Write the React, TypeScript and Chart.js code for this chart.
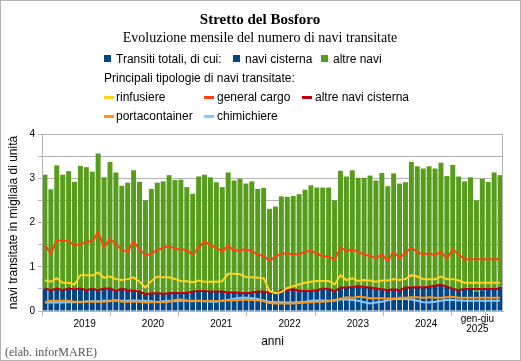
import React, { useEffect, useRef } from "react";
import { Chart, registerables } from "chart.js";

Chart.register(...registerables);

// ---- categories ----
const anni = ["2019", "2020", "2021", "2022", "2023", "2024", "2025"];
const mesi = ["gen", "feb", "mar", "apr", "mag", "giu", "lug", "ago", "set", "ott", "nov", "dic"];
const categories: string[] = [];
anni.forEach((a) => {
  const n = a === "2025" ? 6 : 12;
  for (let i = 0; i < n; i++) categories.push(mesi[i] + " " + a);
});
const periodLabels: (string | string[])[] = ["2019", "2020", "2021", "2022", "2023", "2024", ["gen-giu", "2025"]];
const yTickLabels = ["0", "1", "2", "3", "4"];

// ---- series (migliaia di navi) ----
const naviCisterna = [
  0.51, 0.47, 0.51, 0.47, 0.51, 0.49, 0.51, 0.47, 0.50, 0.47, 0.51, 0.51,
  0.45, 0.50, 0.47, 0.46, 0.44, 0.38, 0.40, 0.40, 0.39, 0.40, 0.41, 0.40,
  0.41, 0.44, 0.45, 0.45, 0.44, 0.44, 0.44, 0.42, 0.42, 0.41, 0.40, 0.42,
  0.44, 0.44, 0.41, 0.40, 0.47, 0.47, 0.49, 0.46, 0.45, 0.45, 0.47, 0.51,
  0.50, 0.44, 0.53, 0.53, 0.54, 0.56, 0.54, 0.53, 0.51, 0.49, 0.47, 0.49,
  0.47, 0.53, 0.53, 0.54, 0.53, 0.55, 0.57, 0.59, 0.55, 0.50, 0.47, 0.50,
  0.50, 0.43, 0.47, 0.48, 0.50, 0.55,
];
const altreNavi = [
  2.57, 2.28, 2.78, 2.61, 2.65, 2.43, 2.77, 2.78, 2.65, 3.09, 2.51, 2.86,
  2.68, 2.33, 2.43, 2.72, 2.48, 2.12, 2.36, 2.50, 2.54, 2.67, 2.55, 2.57,
  2.39, 2.21, 2.59, 2.63, 2.58, 2.47, 2.36, 2.71, 2.53, 2.58, 2.48, 2.51,
  2.32, 2.34, 1.90, 1.96, 2.12, 2.11, 2.11, 2.18, 2.29, 2.39, 2.32, 2.28,
  2.29, 2.06, 2.64, 2.51, 2.64, 2.45, 2.47, 2.53, 2.44, 2.63, 2.35, 2.62,
  2.41, 2.38, 2.84, 2.73, 2.69, 2.72, 2.65, 2.76, 2.50, 2.80, 2.57, 2.43,
  2.52, 2.07, 2.52, 2.44, 2.63, 2.52,
];
const rinfusiere = [
  0.69, 0.66, 0.74, 0.64, 0.64, 0.60, 0.81, 0.81, 0.80, 0.87, 0.75, 0.78,
  0.72, 0.70, 0.72, 0.76, 0.66, 0.53, 0.68, 0.78, 0.76, 0.76, 0.72, 0.68,
  0.67, 0.65, 0.69, 0.66, 0.66, 0.66, 0.67, 0.84, 0.84, 0.83, 0.77, 0.76,
  0.75, 0.74, 0.45, 0.40, 0.43, 0.52, 0.56, 0.60, 0.64, 0.66, 0.68, 0.68,
  0.68, 0.60, 0.81, 0.70, 0.74, 0.68, 0.70, 0.69, 0.66, 0.69, 0.69, 0.72,
  0.70, 0.72, 0.81, 0.78, 0.72, 0.72, 0.72, 0.78, 0.72, 0.72, 0.69, 0.64,
  0.64, 0.64, 0.64, 0.64, 0.64, 0.64,
];
const generalCargo = [
  1.49, 1.30, 1.60, 1.59, 1.59, 1.48, 1.51, 1.57, 1.57, 1.78, 1.44, 1.63,
  1.51, 1.38, 1.34, 1.57, 1.40, 1.25, 1.30, 1.38, 1.43, 1.47, 1.40, 1.39,
  1.38, 1.27, 1.43, 1.58, 1.49, 1.43, 1.34, 1.48, 1.36, 1.38, 1.39, 1.36,
  1.27, 1.24, 1.14, 1.23, 1.30, 1.30, 1.28, 1.28, 1.34, 1.36, 1.30, 1.24,
  1.24, 1.15, 1.43, 1.36, 1.39, 1.34, 1.27, 1.25, 1.19, 1.28, 1.13, 1.34,
  1.19, 1.32, 1.43, 1.33, 1.28, 1.31, 1.25, 1.34, 1.18, 1.39, 1.28, 1.17,
  1.17, 1.17, 1.17, 1.17, 1.17, 1.17,
];
const altreNaviCisterna = [
  0.51, 0.47, 0.51, 0.47, 0.51, 0.49, 0.51, 0.47, 0.50, 0.47, 0.51, 0.51,
  0.45, 0.50, 0.47, 0.46, 0.44, 0.38, 0.40, 0.40, 0.39, 0.40, 0.41, 0.40,
  0.41, 0.44, 0.45, 0.45, 0.44, 0.44, 0.44, 0.42, 0.42, 0.41, 0.40, 0.42,
  0.44, 0.44, 0.41, 0.40, 0.47, 0.47, 0.49, 0.46, 0.45, 0.45, 0.47, 0.51,
  0.50, 0.44, 0.53, 0.53, 0.54, 0.56, 0.54, 0.53, 0.51, 0.49, 0.47, 0.49,
  0.47, 0.53, 0.53, 0.54, 0.53, 0.55, 0.57, 0.59, 0.55, 0.50, 0.47, 0.50,
  0.50, 0.50, 0.50, 0.50, 0.50, 0.50,
];
const portacontainer = [
  0.20, 0.23, 0.23, 0.23, 0.23, 0.21, 0.21, 0.21, 0.21, 0.21, 0.21, 0.22,
  0.25, 0.21, 0.21, 0.21, 0.21, 0.19, 0.20, 0.21, 0.20, 0.21, 0.25, 0.26,
  0.24, 0.23, 0.23, 0.22, 0.23, 0.22, 0.23, 0.24, 0.24, 0.25, 0.26, 0.25,
  0.24, 0.22, 0.18, 0.17, 0.17, 0.17, 0.17, 0.18, 0.19, 0.20, 0.21, 0.21,
  0.22, 0.25, 0.28, 0.31, 0.30, 0.32, 0.31, 0.29, 0.29, 0.29, 0.28, 0.28,
  0.30, 0.30, 0.31, 0.31, 0.30, 0.31, 0.30, 0.30, 0.31, 0.32, 0.30, 0.30,
  0.30, 0.30, 0.30, 0.30, 0.30, 0.30,
];
const chimichiere = [
  0.19, 0.19, 0.20, 0.19, 0.20, 0.20, 0.20, 0.22, 0.22, 0.22, 0.23, 0.23,
  0.24, 0.23, 0.23, 0.24, 0.23, 0.23, 0.22, 0.20, 0.22, 0.23, 0.22, 0.23,
  0.23, 0.22, 0.23, 0.22, 0.21, 0.21, 0.23, 0.25, 0.28, 0.30, 0.30, 0.29,
  0.27, 0.24, 0.21, 0.20, 0.20, 0.19, 0.19, 0.20, 0.21, 0.23, 0.24, 0.24,
  0.23, 0.23, 0.26, 0.26, 0.25, 0.23, 0.20, 0.17, 0.19, 0.21, 0.24, 0.27,
  0.27, 0.27, 0.26, 0.23, 0.20, 0.19, 0.21, 0.23, 0.25, 0.25, 0.24, 0.23,
  0.23, 0.23, 0.23, 0.23, 0.23, 0.23,
];

const COL = {
  cisterna: "#004586",
  altre: "#579d1c",
  rinfusiere: "#ffd320",
  cargo: "#ff420e",
  altreCist: "#c5000b",
  container: "#ff950e",
  chimi: "#83caff",
  grid: "#b3b3b3",
};

const SANS = '"Liberation Sans", Arial, sans-serif';
const SERIF = '"Liberation Serif", "Times New Roman", serif';

const plotBorder = {
  id: "plotBorder",
  afterDatasetsDraw(chart: any) {
    const { ctx, chartArea: a } = chart;
    ctx.save();
    ctx.strokeStyle = COL.grid;
    ctx.lineWidth = 1;
    ctx.strokeRect(Math.round(a.left) + 0.5, Math.round(a.top) + 0.5, Math.round(a.right - a.left) - 1, Math.round(a.bottom - a.top));
    ctx.restore();
  },
};

function lineDs(label: string, data: number[], color: string) {
  return {
    type: "line" as const,
    label,
    data,
    borderColor: color,
    backgroundColor: color,
    borderWidth: 2,
    pointRadius: 0,
    tension: 0,
    order: 0,
    stack: "l_" + label,
  };
}

function ChartCanvas() {
  const ref = useRef<HTMLCanvasElement>(null);
  useEffect(() => {
    if (!ref.current) return;
    Chart.defaults.font.family = SANS;
    Chart.defaults.color = "#000";
    const chart = new Chart(ref.current, {
      type: "bar",
      data: {
        labels: categories,
        datasets: [
          { type: "bar", label: "navi cisterna", data: naviCisterna, backgroundColor: COL.cisterna, stack: "tot", order: 1, barPercentage: 0.84, categoryPercentage: 1 } as any,
          { type: "bar", label: "altre navi", data: altreNavi, backgroundColor: COL.altre, stack: "tot", order: 1, barPercentage: 0.84, categoryPercentage: 1 } as any,
          lineDs("rinfusiere", rinfusiere, COL.rinfusiere),
          lineDs("general cargo", generalCargo, COL.cargo),
          lineDs("portacontainer", portacontainer, COL.container),
          lineDs("chimichiere", chimichiere, COL.chimi),
          lineDs("altre navi cisterna", altreNaviCisterna, COL.altreCist),
        ],
      },
      options: {
        responsive: false,
        animation: false,
        layout: { padding: { top: 134, right: 18, bottom: 0, left: 0 } },
        plugins: { legend: { display: false }, tooltip: { enabled: false }, title: { display: false } },
        scales: {
          x: { type: "category", display: false, stacked: true, offset: true },
          x2: {
            type: "linear",
            position: "bottom",
            min: 0,
            max: 78,
            afterFit: (s: any) => { s.height = 50; },
            ticks: {
              stepSize: 3,
              autoSkip: false,
              maxRotation: 0,
              minRotation: 0,
              padding: 3,
              crossAlign: "center",
              font: { size: 10, lineHeight: 1 },
              color: "#000",
              callback: (v: any) => {
                const n = Number(v);
                if (n === 75) return periodLabels[6];
                if (n < 72 && (n - 6) % 12 === 0) return periodLabels[(n - 6) / 12];
                return "";
              },
            },
            grid: {
              drawOnChartArea: false,
              drawTicks: true,
              tickLength: 5,
              tickColor: (c: any) => {
                const v = c.tick ? c.tick.value : -1;
                return v % 12 === 0 || v === 78 ? COL.grid : "rgba(0,0,0,0)";
              },
            },
            border: { display: true, color: COL.grid },
            title: { display: true, text: "anni", font: { size: 12 }, color: "#000", padding: { top: 0, bottom: 12 } },
          },
          y: {
            stacked: true,
            min: 0,
            max: 4,
            afterFit: (s: any) => { s.width = 42; },
            ticks: {
              stepSize: 0.5,
              padding: 3,
              font: { size: 10 },
              color: "#000",
              callback: (v: any) => {
                const n = Number(v);
                return Number.isInteger(n) ? yTickLabels[n] : "";
              },
            },
            grid: { color: COL.grid, tickLength: 4, tickColor: COL.grid },
            border: { display: true, color: COL.grid },
            title: { display: true, text: "navi transitate in migliaia di unità", font: { size: 12 }, color: "#000", padding: { top: 6, bottom: 0 } },
          },
        },
      },
      plugins: [plotBorder],
    } as any);
    return () => chart.destroy();
  }, []);
  return <canvas ref={ref} width={521} height={361} style={{ position: "absolute", left: 0, top: 0, width: 521, height: 361 }} />;
}

function T(props: { x: number; y: number; children: any; style?: any; center?: boolean }) {
  const { x, y, children, style, center } = props;
  return (
    <div
      style={{
        position: "absolute",
        left: x,
        top: y,
        transform: center ? "translate(-50%, -50%)" : "translateY(-50%)",
        whiteSpace: "nowrap",
        fontFamily: SANS,
        fontSize: 12,
        lineHeight: "14px",
        color: "#000",
        ...style,
      }}
    >
      {children}
    </div>
  );
}

function Sq(props: { x: number; y: number; color: string }) {
  return <div style={{ position: "absolute", left: props.x, top: props.y - 3.5, width: 7, height: 7, background: props.color }} />;
}
function Ln(props: { x: number; y: number; color: string }) {
  return <div style={{ position: "absolute", left: props.x, top: props.y - 1.5, width: 10, height: 3, background: props.color }} />;
}

export default function App() {
  return (
    <div style={{ position: "absolute", left: 0, top: 0, width: 521, height: 361, background: "#fff", overflow: "hidden" }}>
      <ChartCanvas />
      <T x={260} y={18.5} center style={{ fontFamily: SERIF, fontWeight: "bold", fontSize: 15 }}>Stretto del Bosforo</T>
      <T x={260} y={37.5} center style={{ fontFamily: SERIF, fontSize: 14 }}>Evoluzione mensile del numero di navi transitate</T>

      <Sq x={104} y={58.5} color={COL.cisterna} />
      <T x={116} y={58.5}>Transiti totali, di cui:</T>
      <Sq x={233} y={58.5} color={COL.cisterna} />
      <T x={245} y={58.5}>navi cisterna</T>
      <Sq x={321} y={58.5} color={COL.altre} />
      <T x={333} y={58.5}>altre navi</T>

      <T x={104} y={78}>Principali tipologie di navi transitate:</T>

      <Ln x={104} y={97} color={COL.rinfusiere} />
      <T x={116} y={97}>rinfusiere</T>
      <Ln x={204} y={97} color={COL.cargo} />
      <T x={217} y={97}>general cargo</T>
      <Ln x={302} y={97} color={COL.altreCist} />
      <T x={315} y={97}>altre navi cisterna</T>

      <Ln x={104} y={116} color={COL.container} />
      <T x={116} y={116}>portacontainer</T>
      <Ln x={204} y={116} color={COL.chimi} />
      <T x={217} y={116}>chimichiere</T>

      <T x={5} y={352} style={{ fontFamily: SERIF, fontSize: 12, color: "#555" }}>(elab. inforMARE)</T>

      <div style={{ position: "absolute", left: 0, top: 0, width: 521, height: 361, boxSizing: "border-box", border: "1px solid #b3b3b3", pointerEvents: "none" }} />
    </div>
  );
}
